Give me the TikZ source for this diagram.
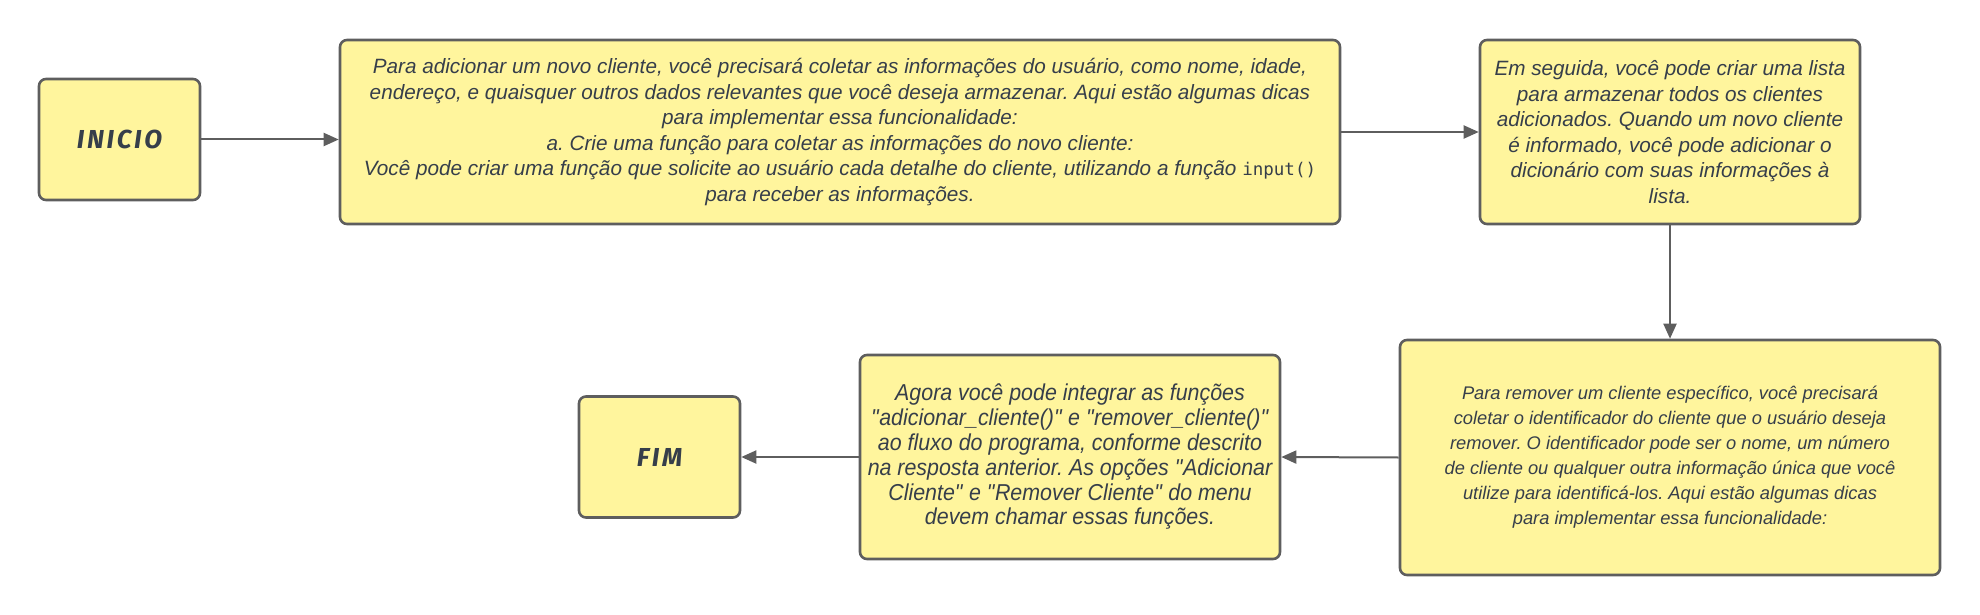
\documentclass[tikz,border=0pt]{standalone}
\usepackage{fontspec}
\setmainfont{Liberation Sans}
\newfontfamily\termfont{Fira Sans}[LetterSpace=10]
\newfontfamily\condfont{Liberation Sans}[FakeStretch=0.93]
\newfontfamily\codefont{DejaVu Sans Mono}
\usetikzlibrary{arrows.meta}
\definecolor{boxfill}{HTML}{FFF59D}
\definecolor{boxline}{HTML}{5E5E5E}
\definecolor{txt}{HTML}{363E4A}
\newcommand{\dq}{\textquotedbl{}}
\tikzset{
  card/.style={draw=boxline, line width=2.6pt, fill=boxfill, rounded corners=7pt,
    inner sep=0pt, align=center, text=txt},
  bigtext/.style={font=\frenchspacing\fontsize{20.7}{25.5}\selectfont\itshape},
  smalltext/.style={font=\frenchspacing\fontsize{18.3}{25}\selectfont\itshape},
  condtext/.style={font=\frenchspacing\condfont\fontsize{23}{24.8}\selectfont\itshape},
  termbox/.style={card, minimum width=161pt, minimum height=121pt,
    font=\termfont\fontsize{26}{30}\selectfont\bfseries\itshape},
  flow/.style={draw=boxline, line width=2pt, -{Triangle[length=15pt,width=13pt]}}
}
\begin{document}
\begin{tikzpicture}[x=1pt,y=-1pt]
\useasboundingbox (0,0) rectangle (1980,615);
\node[termbox] (inicio) at (119.5,139.5) {INICIO};
\node[card, bigtext, minimum width=1000pt, minimum height=184pt] (b2) at (840,132)
 {Para adicionar um novo cliente, você precisará coletar as informações do usuário, como nome, idade,\\
  endereço, e quaisquer outros dados relevantes que você deseja armazenar. Aqui estão algumas dicas\\
  para implementar essa funcionalidade:\\
  a. Crie uma função para coletar as informações do novo cliente:\\
  Você pode criar uma função que solicite ao usuário cada detalhe do cliente, utilizando a função {\upshape\codefont\fontsize{17.5}{25}\selectfont input()}\\
  para receber as informações.};
\node[card, bigtext, minimum width=380pt, minimum height=184pt] (b3) at (1670,132)
 {Em seguida, você pode criar uma lista\\
  para armazenar todos os clientes\\
  adicionados. Quando um novo cliente\\
  é informado, você pode adicionar o\\
  dicionário com suas informações à\\
  lista.};
\node[card, smalltext, minimum width=540pt, minimum height=235pt] (b4) at (1670,457.5)
 {Para remover um cliente específico, você precisará\\
  coletar o identificador do cliente que o usuário deseja\\
  remover. O identificador pode ser o nome, um número\\
  de cliente ou qualquer outra informação única que você\\
  utilize para identificá-los. Aqui estão algumas dicas\\
  para implementar essa funcionalidade:};
\node[card, condtext, minimum width=420pt, minimum height=204pt] (b5) at (1070,457)
 {Agora você pode integrar as funções\\
  \dq adicionar\_cliente()\dq\ e \dq remover\_cliente()\dq\\
  ao fluxo do programa, conforme descrito\\
  na resposta anterior. As opções \dq Adicionar\\
  Cliente\dq\ e \dq Remover Cliente\dq\ do menu\\
  devem chamar essas funções.};
\node[termbox] (fim) at (659.5,457) {FIM};
\draw[flow] (inicio.east) -- (inicio.east -| b2.west);
\draw[flow] (b2.east) -- (b3.west);
\draw[flow] (b3.south) -- (b4.north);
\draw[flow] (b4.west) -- (b5.east);
\draw[flow] (b5.west) -- (fim.east);
\end{tikzpicture}
\end{document}
